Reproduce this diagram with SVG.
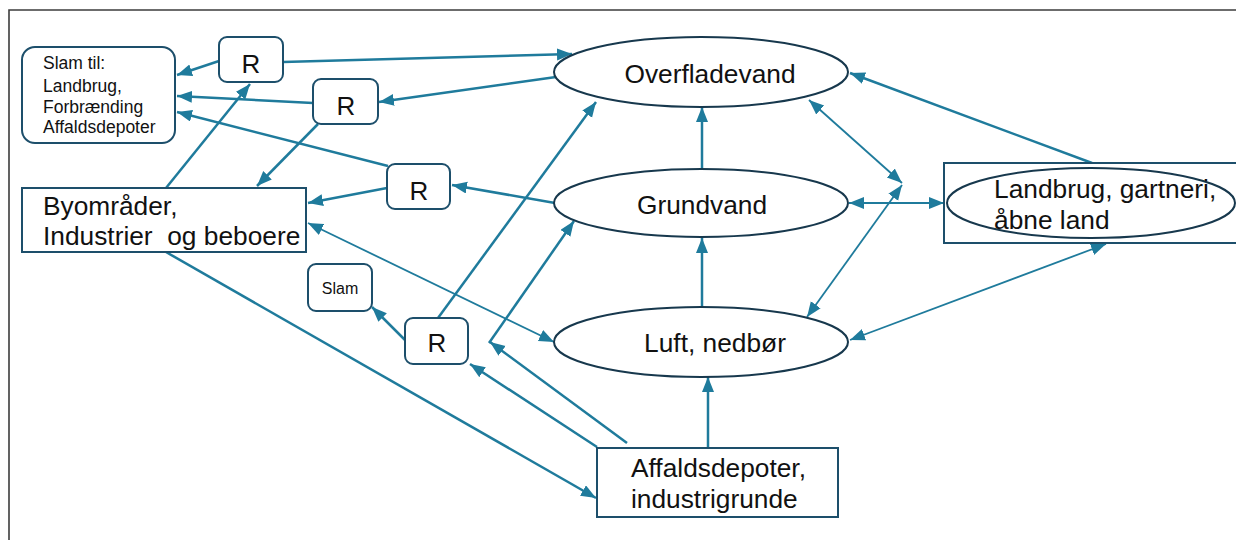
<svg xmlns="http://www.w3.org/2000/svg" width="1236" height="540" viewBox="0 0 1236 540">
<defs>
<style>
.frame{fill:none;stroke:#3c3c3c;stroke-width:1.6}
.box{fill:#fff;stroke:#1d4f6b;stroke-width:2}
.ell{fill:#fff;stroke:#17384d;stroke-width:2}
.ell2{fill:none;stroke:#17384d;stroke-width:2}
.t{font-family:"Liberation Sans",Arial,sans-serif;fill:#111}
.big{font-size:26.3px}
.r{font-size:26px;text-anchor:middle}
.sm{font-size:17.5px}
.c{text-anchor:middle}
.a{fill:none;stroke:#1f7b9c;stroke-width:2.5;marker-end:url(#ah)}
.a2{fill:none;stroke:#1f7b9c;stroke-width:1.8;marker-start:url(#ahs);marker-end:url(#ahs)}
</style>
<marker id="ah" markerUnits="userSpaceOnUse" markerWidth="16" markerHeight="13" refX="15" refY="6" orient="auto">
<path d="M0,0 L15,6 L0,12 z" fill="#1f7b9c"/>
</marker>
<marker id="ahs" markerUnits="userSpaceOnUse" markerWidth="16" markerHeight="13" refX="15" refY="6" orient="auto-start-reverse">
<path d="M0,0 L15,6 L0,12 z" fill="#1f7b9c"/>
</marker>
</defs>
<rect width="1236" height="540" fill="#fff"/>
<path class="frame" d="M9,545 L9,10 L1240,10"/>

<g id="connectors">
<line class="a" x1="219" y1="61" x2="177" y2="75"/>
<line class="a" x1="283" y1="62" x2="572" y2="54"/>
<line class="a" x1="556" y1="77" x2="379" y2="102"/>
<line class="a" x1="313" y1="103" x2="177" y2="96"/>
<line class="a" x1="318" y1="124" x2="257" y2="186"/>
<line class="a" x1="166" y1="188" x2="250" y2="84"/>
<line class="a" x1="388" y1="166" x2="177" y2="112"/>
<line class="a" x1="387" y1="188" x2="308" y2="203"/>
<line class="a" x1="555" y1="203" x2="452" y2="185"/>
<line class="a2" x1="308" y1="223" x2="554" y2="342"/>
<line class="a" x1="166" y1="252" x2="596" y2="498"/>
<line class="a" x1="405" y1="340" x2="372" y2="307"/>
<line class="a" x1="438" y1="318" x2="596" y2="102"/>
<line class="a" x1="597" y1="447" x2="470" y2="364"/>
<line class="a" x1="627" y1="443" x2="490" y2="342"/>
<line class="a" x1="489" y1="343" x2="574" y2="221"/>
<line class="a" x1="708" y1="448" x2="708" y2="377"/>
<line class="a" x1="702" y1="307" x2="702" y2="238"/>
<line class="a" x1="702" y1="168" x2="702" y2="107"/>
<line class="a2" x1="809" y1="100" x2="902" y2="183"/>
<line class="a2" x1="807" y1="317" x2="902" y2="185"/>
<line class="a2" x1="849" y1="203" x2="944" y2="203"/>
<line class="a" x1="1092" y1="163" x2="850" y2="73"/>
<line class="a2" x1="850" y1="340" x2="1106" y2="244"/>
</g>

<g id="slam-til">
<rect class="box" x="22" y="47" width="153" height="96" rx="13"/>
<text class="t sm" x="43" y="69">Slam til:</text>
<text class="t sm" x="43" y="92">Landbrug,</text>
<text class="t sm" x="43" y="113">Forbrænding</text>
<text class="t sm" x="43" y="133">Affaldsdepoter</text>
</g>

<g id="r1">
<rect class="box" x="219" y="37" width="64" height="45" rx="8"/>
<text class="t r" x="251" y="73">R</text>
</g>
<g id="r2">
<rect class="box" x="313" y="79" width="65" height="45" rx="8"/>
<text class="t r" x="346" y="115">R</text>
</g>
<g id="r3">
<rect class="box" x="387" y="164" width="63" height="45" rx="8"/>
<text class="t r" x="419" y="200">R</text>
</g>
<g id="r4">
<rect class="box" x="405" y="318" width="63" height="46" rx="8"/>
<text class="t r" x="437" y="352">R</text>
</g>

<g id="slam">
<rect class="box" x="308" y="264" width="64" height="47" rx="8"/>
<text class="t c" x="340" y="294" style="font-size:16px">Slam</text>
</g>

<g id="byomraader">
<rect class="box" x="22" y="188" width="284" height="64"/>
<text class="t big" x="43" y="215">Byområder,</text>
<text class="t big" x="43" y="245" xml:space="preserve">Industrier  og beboere</text>
</g>

<g id="overfladevand">
<ellipse class="ell" cx="701" cy="72" rx="147" ry="35"/>
<text class="t big c" x="710" y="83">Overfladevand</text>
</g>
<g id="grundvand">
<ellipse class="ell" cx="701" cy="203" rx="147" ry="34"/>
<text class="t big c" x="702" y="214">Grundvand</text>
</g>
<g id="luft">
<ellipse class="ell" cx="701" cy="342" rx="147" ry="35"/>
<text class="t big c" x="715" y="352">Luft, nedbør</text>
</g>

<g id="landbrug">
<rect class="box" x="944" y="163" width="310" height="80"/>
<ellipse class="ell2" cx="1091" cy="203" rx="144" ry="35"/>
<text class="t big" x="994" y="198">Landbrug, gartneri,</text>
<text class="t big" x="994" y="229">åbne land</text>
</g>

<g id="affaldsdepoter">
<rect class="box" x="597" y="448" width="241" height="69"/>
<text class="t big" x="631" y="477">Affaldsdepoter,</text>
<text class="t big" x="631" y="508">industrigrunde</text>
</g>
</svg>
